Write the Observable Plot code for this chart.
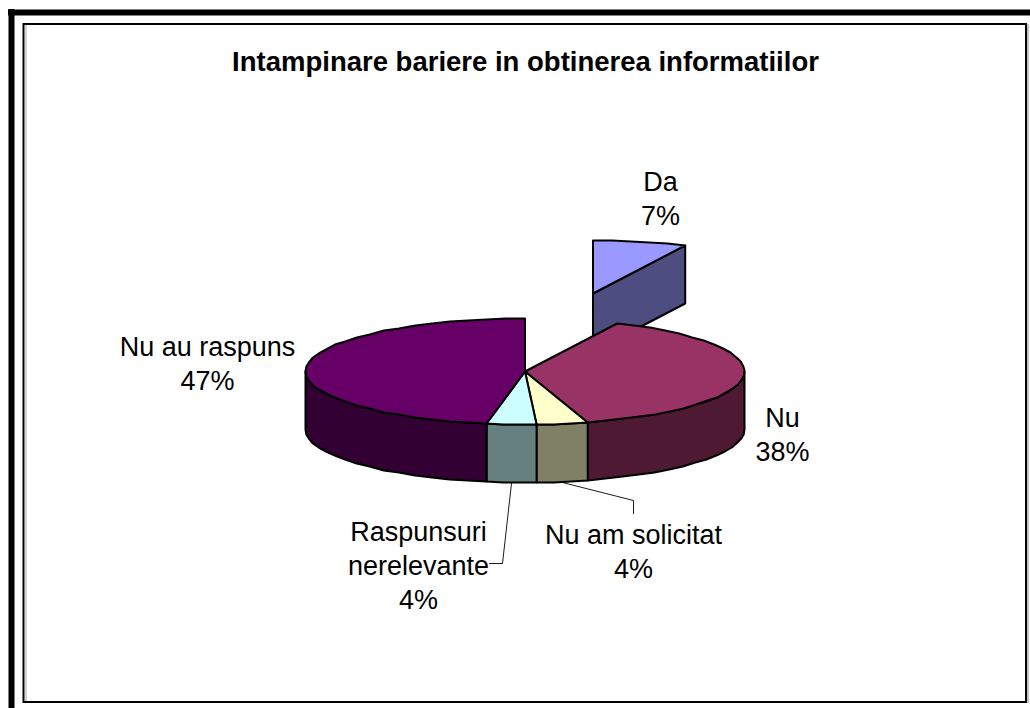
<!DOCTYPE html>
<html>
<head>
<meta charset="utf-8">
<style>html,body{margin:0;padding:0;background:#fff}svg{display:block}</style>
<script src="https://cdn.jsdelivr.net/npm/d3@7"></script>
<script src="https://cdn.jsdelivr.net/npm/@observablehq/plot@0.6"></script>
</head>
<body>
<script>
const title = "Intampinare bariere in obtinerea informatiilor";
const categories = ["Da", "Nu", "Nu am solicitat", "Raspunsuri\nnerelevante", "Nu au raspuns"];
const shares = [6.9, 38.49, 3.77, 3.64, 47.2];
const topColors = ["#9999FF", "#993366", "#FFFFCC", "#CCFFFF", "#660066"];
const sideColors = ["#4D4D80", "#4D1933", "#808066", "#668080", "#330033"];
const labelX = [660, 782, 633, 418, 207];
const labelY = [197, 433, 550, 564, 362];

// pie geometry, in page pixels
const cx = 524.5, cy = 371, rx = 219.5, ry = 53, depth = 58;
const explode = [68, -78];
const font = "'Liberation Sans', Arial, sans-serif";

const total = d3.sum(shares);
let acc = 0;
const slices = shares.map((v, i) => {
  const a0 = acc / total * 360; acc += v;
  return {i, a0, a1: acc / total * 360, dx: i === 0 ? explode[0] : 0, dy: i === 0 ? explode[1] : 0};
});
const pt = (s, a, d = 0) => {
  const t = a * Math.PI / 180;
  return {x: cx + s.dx + rx * Math.sin(t), y: Math.round(cy + s.dy - ry * Math.cos(t)) + d};
};
const arc = (s, a0, a1, d = 0) => {
  const n = Math.max(1, Math.round((a1 - a0) / 5));
  return d3.range(n + 1).map(k => pt(s, a0 + (a1 - a0) * k / n, d));
};
const centre = (s, d = 0) => ({x: cx + s.dx, y: cy + s.dy + d});
const poly = (pts, fill) => Plot.line([...pts, pts[0], pts[1]], {
  x: "x", y: "y", fill, stroke: "#000", strokeWidth: 2, strokeLinejoin: "round", curve: "linear"
});

const marks = [];
// exploded slice first: cut face, then its top
const da = slices[0];
marks.push(poly([centre(da), pt(da, da.a1), pt(da, da.a1, depth), centre(da, depth)], sideColors[0]));
marks.push(poly([centre(da), ...arc(da, da.a0, da.a1)], topColors[0]));
// main pie walls
for (const s of slices.slice(1)) {
  const a0 = Math.max(s.a0, 90), a1 = Math.min(s.a1, 270);
  if (a1 > a0) marks.push(poly([...arc(s, a0, a1), ...arc(s, a0, a1, depth).reverse()], sideColors[s.i]));
}
// main pie tops
for (const s of slices.slice(1)) {
  marks.push(poly([centre(s), ...arc(s, s.a0, s.a1)], topColors[s.i]));
}
// leader lines start at the middle of their slice, on the lower rim
const mid = s => pt(s, (s.a0 + s.a1) / 2, depth + 1);
const leaders = [
  [mid(slices[2]), {x: 633, y: 500}, {x: 633, y: 513}],
  [mid(slices[3]), {x: 502, y: 563}, {x: 489, y: 563}]
];
for (const l of leaders) marks.push(Plot.line(l, {x: "x", y: "y", stroke: "#000", strokeWidth: 0.9, curve: "linear"}));

const percents = shares.map(v => `${Math.round(v / total * 100)}%`);
const labels = categories.map((c, i) => ({text: `${c}\n${percents[i]}`, x: labelX[i], y: labelY[i]}));

const chart = Plot.plot({
  width: 1030, height: 708,
  margin: 0,
  style: {background: "#fff", fontFamily: font, overflow: "hidden"},
  x: {domain: [0, 1030], range: [0, 1030], axis: null},
  y: {domain: [0, 708], range: [0, 708], axis: null},
  marks: [
    // outer heavy border (top and left only)
    Plot.ruleY([12], {x1: 8, x2: 1030, stroke: "#000", strokeWidth: 6}),
    Plot.ruleX([11], {y1: 9, y2: 708, stroke: "#000", strokeWidth: 6}),
    // inner chart frame
    Plot.ruleX([25.5], {y1: 24, y2: 702, stroke: "#aaa", strokeWidth: 1}),
    Plot.ruleX([1027.5], {y1: 24, y2: 703, stroke: "#888", strokeWidth: 1}),
    Plot.rect([{x1: 23.5, x2: 1026, y1: 24, y2: 702}], {x1: "x1", x2: "x2", y1: "y1", y2: "y2", fill: "none", stroke: "#000", strokeWidth: 2}),
    Plot.text([title], {x: [525], y: [62], text: d => d, fontSize: 27.5, fontWeight: "bold", fill: "#000", fontFamily: font}),
    ...marks,
    Plot.text(labels, {x: "x", y: "y", text: "text", fontSize: 27, lineHeight: 1.26, fill: "#000", fontFamily: font, lineAnchor: "middle"})
  ]
});
document.body.appendChild(chart);
</script>
</body>
</html>
